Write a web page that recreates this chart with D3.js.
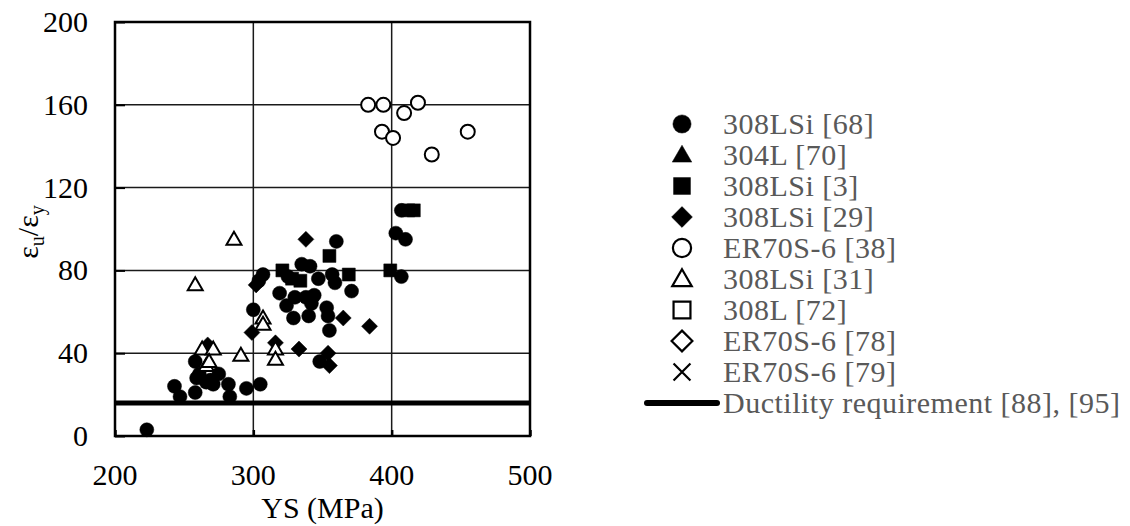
<!DOCTYPE html>
<html>
<head>
<meta charset="utf-8">
<script src="https://cdn.jsdelivr.net/npm/d3@7"></script>
<style>
  html, body { margin: 0; padding: 0; background: #fff; }
  svg { display: block; }
  text { font-family: "Liberation Serif", "Times New Roman", serif; }
</style>
</head>
<body>
<svg id="chart" width="1130" height="526"></svg>
<script>
// Yield strength (MPa) vs. ductility ratio εu/εy, per data source
const xTicks = [200, 300, 400, 500];
const yTicks = [0, 40, 80, 120, 160, 200];

const s308LSi68 = [
  [223, 3],
  [243, 24], [247, 19], [258, 36], [259, 28], [258, 21], [261, 30], [266, 26], [269, 27],
  [271, 25], [275, 30], [282, 25], [283, 19], [295, 23], [305, 25],
  [300, 61], [304, 75], [307, 78],
  [319, 69], [324, 63], [325, 77], [329, 57], [330, 67], [335, 83], [338, 67], [340, 58],
  [341, 82], [342, 64], [344, 68], [347, 76], [353, 62], [354, 58], [355, 51], [357, 78],
  [359, 74], [360, 94], [371, 70], [348, 36],
  [403, 98], [410, 95], [407, 77], [407, 109]
];
const s304L70 = [];
const s308LSi3 = [[321, 80], [328, 76], [334, 75], [355, 87], [369, 78], [399, 80], [412, 109], [416, 109]];
const s308LSi29 = [[338, 95], [302, 73], [299, 50], [316, 45], [333, 42], [354, 40], [355, 34], [365, 57], [384, 53], [267, 44]];
const sER70S6_38 = [[383, 160], [394, 160], [419, 161], [409, 156], [393, 147], [401, 144], [455, 147], [429, 136]];
const s308LSi31 = [[286, 95], [258, 73], [307, 57], [307, 54], [263, 42], [271, 42], [266, 34], [268, 36], [291, 39], [316, 42], [316, 37]];
const s308L72 = [];
const sER70S6_78 = [];
const sER70S6_79 = [];
const ductilityRequirement = 16;

const seriesNames = [
  "308LSi [68]", "304L [70]", "308LSi [3]", "308LSi [29]", "ER70S-6 [38]",
  "308LSi [31]", "308L [72]", "ER70S-6 [78]", "ER70S-6 [79]"
];
const ductilityName = "Ductility requirement [88], [95]";

const series = [
  { name: seriesNames[0], data: s308LSi68, shape: "circle", filled: true },
  { name: seriesNames[1], data: s304L70, shape: "triangle", filled: true },
  { name: seriesNames[2], data: s308LSi3, shape: "square", filled: true },
  { name: seriesNames[3], data: s308LSi29, shape: "diamond", filled: true },
  { name: seriesNames[4], data: sER70S6_38, shape: "circle", filled: false },
  { name: seriesNames[5], data: s308LSi31, shape: "triangle", filled: false },
  { name: seriesNames[6], data: s308L72, shape: "square", filled: false },
  { name: seriesNames[7], data: sER70S6_78, shape: "diamond", filled: false },
  { name: seriesNames[8], data: sER70S6_79, shape: "cross", filled: false }
];

const svg = d3.select("#chart");
const plot = { left: 115, right: 530, top: 22, bottom: 436 };

const x = d3.scaleLinear().domain([200, 500]).range([plot.left, plot.right]);
const y = d3.scaleLinear().domain([0, 200]).range([plot.bottom, plot.top]);

// marker outlines, centred on (0,0), k = scale factor
function markerPath(shape, k) {
  const p = d3.path();
  if (shape === "circle") {
    const r = 7 * k; p.arc(0, 0, r, 0, 2 * Math.PI);
  } else if (shape === "square") {
    const h = 6.5 * k; p.rect(-h, -h, 2 * h, 2 * h);
  } else if (shape === "diamond") {
    const h = 8 * k; p.moveTo(0, -h); p.lineTo(h, 0); p.lineTo(0, h); p.lineTo(-h, 0); p.closePath();
  } else if (shape === "triangle") {
    const w = 7.5 * k, hgt = 13 * k;
    p.moveTo(0, -hgt * 0.58); p.lineTo(w, hgt * 0.42); p.lineTo(-w, hgt * 0.42); p.closePath();
  } else if (shape === "cross") {
    const h = 6.5 * k; p.moveTo(-h, -h); p.lineTo(h, h); p.moveTo(h, -h); p.lineTo(-h, h);
  }
  return p.toString();
}

// gridlines
const grid = svg.append("g");
grid.selectAll("line.h").data(yTicks.filter(v => v > 0 && v < 200)).enter().append("line")
  .attr("x1", plot.left).attr("x2", plot.right)
  .attr("y1", d => y(d)).attr("y2", d => y(d))
  .attr("stroke", "#1a1a1a").attr("stroke-width", 1.5);
grid.selectAll("line.v").data(xTicks.filter(v => v > 200 && v < 500)).enter().append("line")
  .attr("y1", plot.top).attr("y2", plot.bottom)
  .attr("x1", d => x(d)).attr("x2", d => x(d))
  .attr("stroke", "#1a1a1a").attr("stroke-width", 1.5);

// axes with short inward ticks
const yAxis = svg.append("g").attr("transform", `translate(${plot.left},0)`)
  .call(d3.axisRight(y).tickValues(yTicks).tickSize(10).tickFormat(""));
yAxis.select(".domain").remove();
yAxis.selectAll("line").attr("stroke", "#000").attr("stroke-width", 2);

const xAxis = svg.append("g").attr("transform", `translate(0,${plot.bottom})`)
  .call(d3.axisTop(x).tickValues(xTicks).tickSize(6).tickFormat(""));
xAxis.select(".domain").remove();
xAxis.selectAll("line").attr("stroke", "#000").attr("stroke-width", 2.5);

// tick labels
svg.append("g").selectAll("text").data(yTicks).enter().append("text")
  .attr("x", 88).attr("y", d => y(d) + 10)
  .attr("text-anchor", "end").attr("font-size", 30).attr("fill", "#000")
  .text(d => d);
svg.append("g").selectAll("text").data(xTicks).enter().append("text")
  .attr("x", d => x(d)).attr("y", 485)
  .attr("text-anchor", "middle").attr("font-size", 30).attr("fill", "#000")
  .text(d => d);

// axis titles
svg.append("text")
  .attr("x", (plot.left + plot.right) / 2).attr("y", 518)
  .attr("text-anchor", "middle").attr("font-size", 30).attr("fill", "#000")
  .text("YS (MPa)");

const yTitle = svg.append("text")
  .attr("transform", "translate(38,232) rotate(-90)")
  .attr("text-anchor", "middle").attr("font-size", 30).attr("fill", "#000");
yTitle.append("tspan").text("ε");
yTitle.append("tspan").attr("dy", 6).attr("font-size", 20).text("u");
yTitle.append("tspan").attr("dy", -6).text("/ε");
yTitle.append("tspan").attr("dy", 6).attr("font-size", 20).text("y");

// ductility requirement line
svg.append("line")
  .attr("x1", plot.left).attr("x2", plot.right)
  .attr("y1", y(ductilityRequirement)).attr("y2", y(ductilityRequirement))
  .attr("stroke", "#000").attr("stroke-width", 5);

// data markers
series.forEach(s => {
  svg.append("g").selectAll("path").data(s.data).enter().append("path")
    .attr("transform", d => `translate(${x(d[0])},${y(d[1])})`)
    .attr("d", markerPath(s.shape, 1))
    .attr("fill", s.filled ? "#000" : (s.shape === "cross" ? "none" : "#fff"))
    .attr("stroke", "#000")
    .attr("stroke-width", s.filled ? 0.5 : 2);
});

// plot frame
svg.append("rect")
  .attr("x", plot.left).attr("y", plot.top)
  .attr("width", plot.right - plot.left).attr("height", plot.bottom - plot.top)
  .attr("fill", "none").attr("stroke", "#000").attr("stroke-width", 2.5);

// legend
const legend = svg.append("g");
const legendX = 682, legendTextX = 723, legendTop = 124, legendStep = 31;
series.forEach((s, i) => {
  const cy = legendTop + i * legendStep;
  legend.append("path")
    .attr("transform", `translate(${legendX},${cy})`)
    .attr("d", markerPath(s.shape, 1.3))
    .attr("fill", s.filled ? "#000" : (s.shape === "cross" ? "none" : "#fff"))
    .attr("stroke", "#000").attr("stroke-width", s.filled ? 0.5 : 2.2);
  legend.append("text")
    .attr("x", legendTextX).attr("y", cy + 10)
    .attr("font-size", 30).attr("letter-spacing", 0.5).attr("fill", "#595959")
    .text(s.name);
});
const dy = legendTop + series.length * legendStep;
legend.append("line")
  .attr("x1", 647).attr("x2", 717).attr("y1", dy).attr("y2", dy)
  .attr("stroke", "#000").attr("stroke-width", 6).attr("stroke-linecap", "round");
legend.append("text")
  .attr("x", legendTextX).attr("y", dy + 10)
  .attr("font-size", 30).attr("letter-spacing", 0.5).attr("fill", "#595959")
  .text(ductilityName);
</script>
</body>
</html>
